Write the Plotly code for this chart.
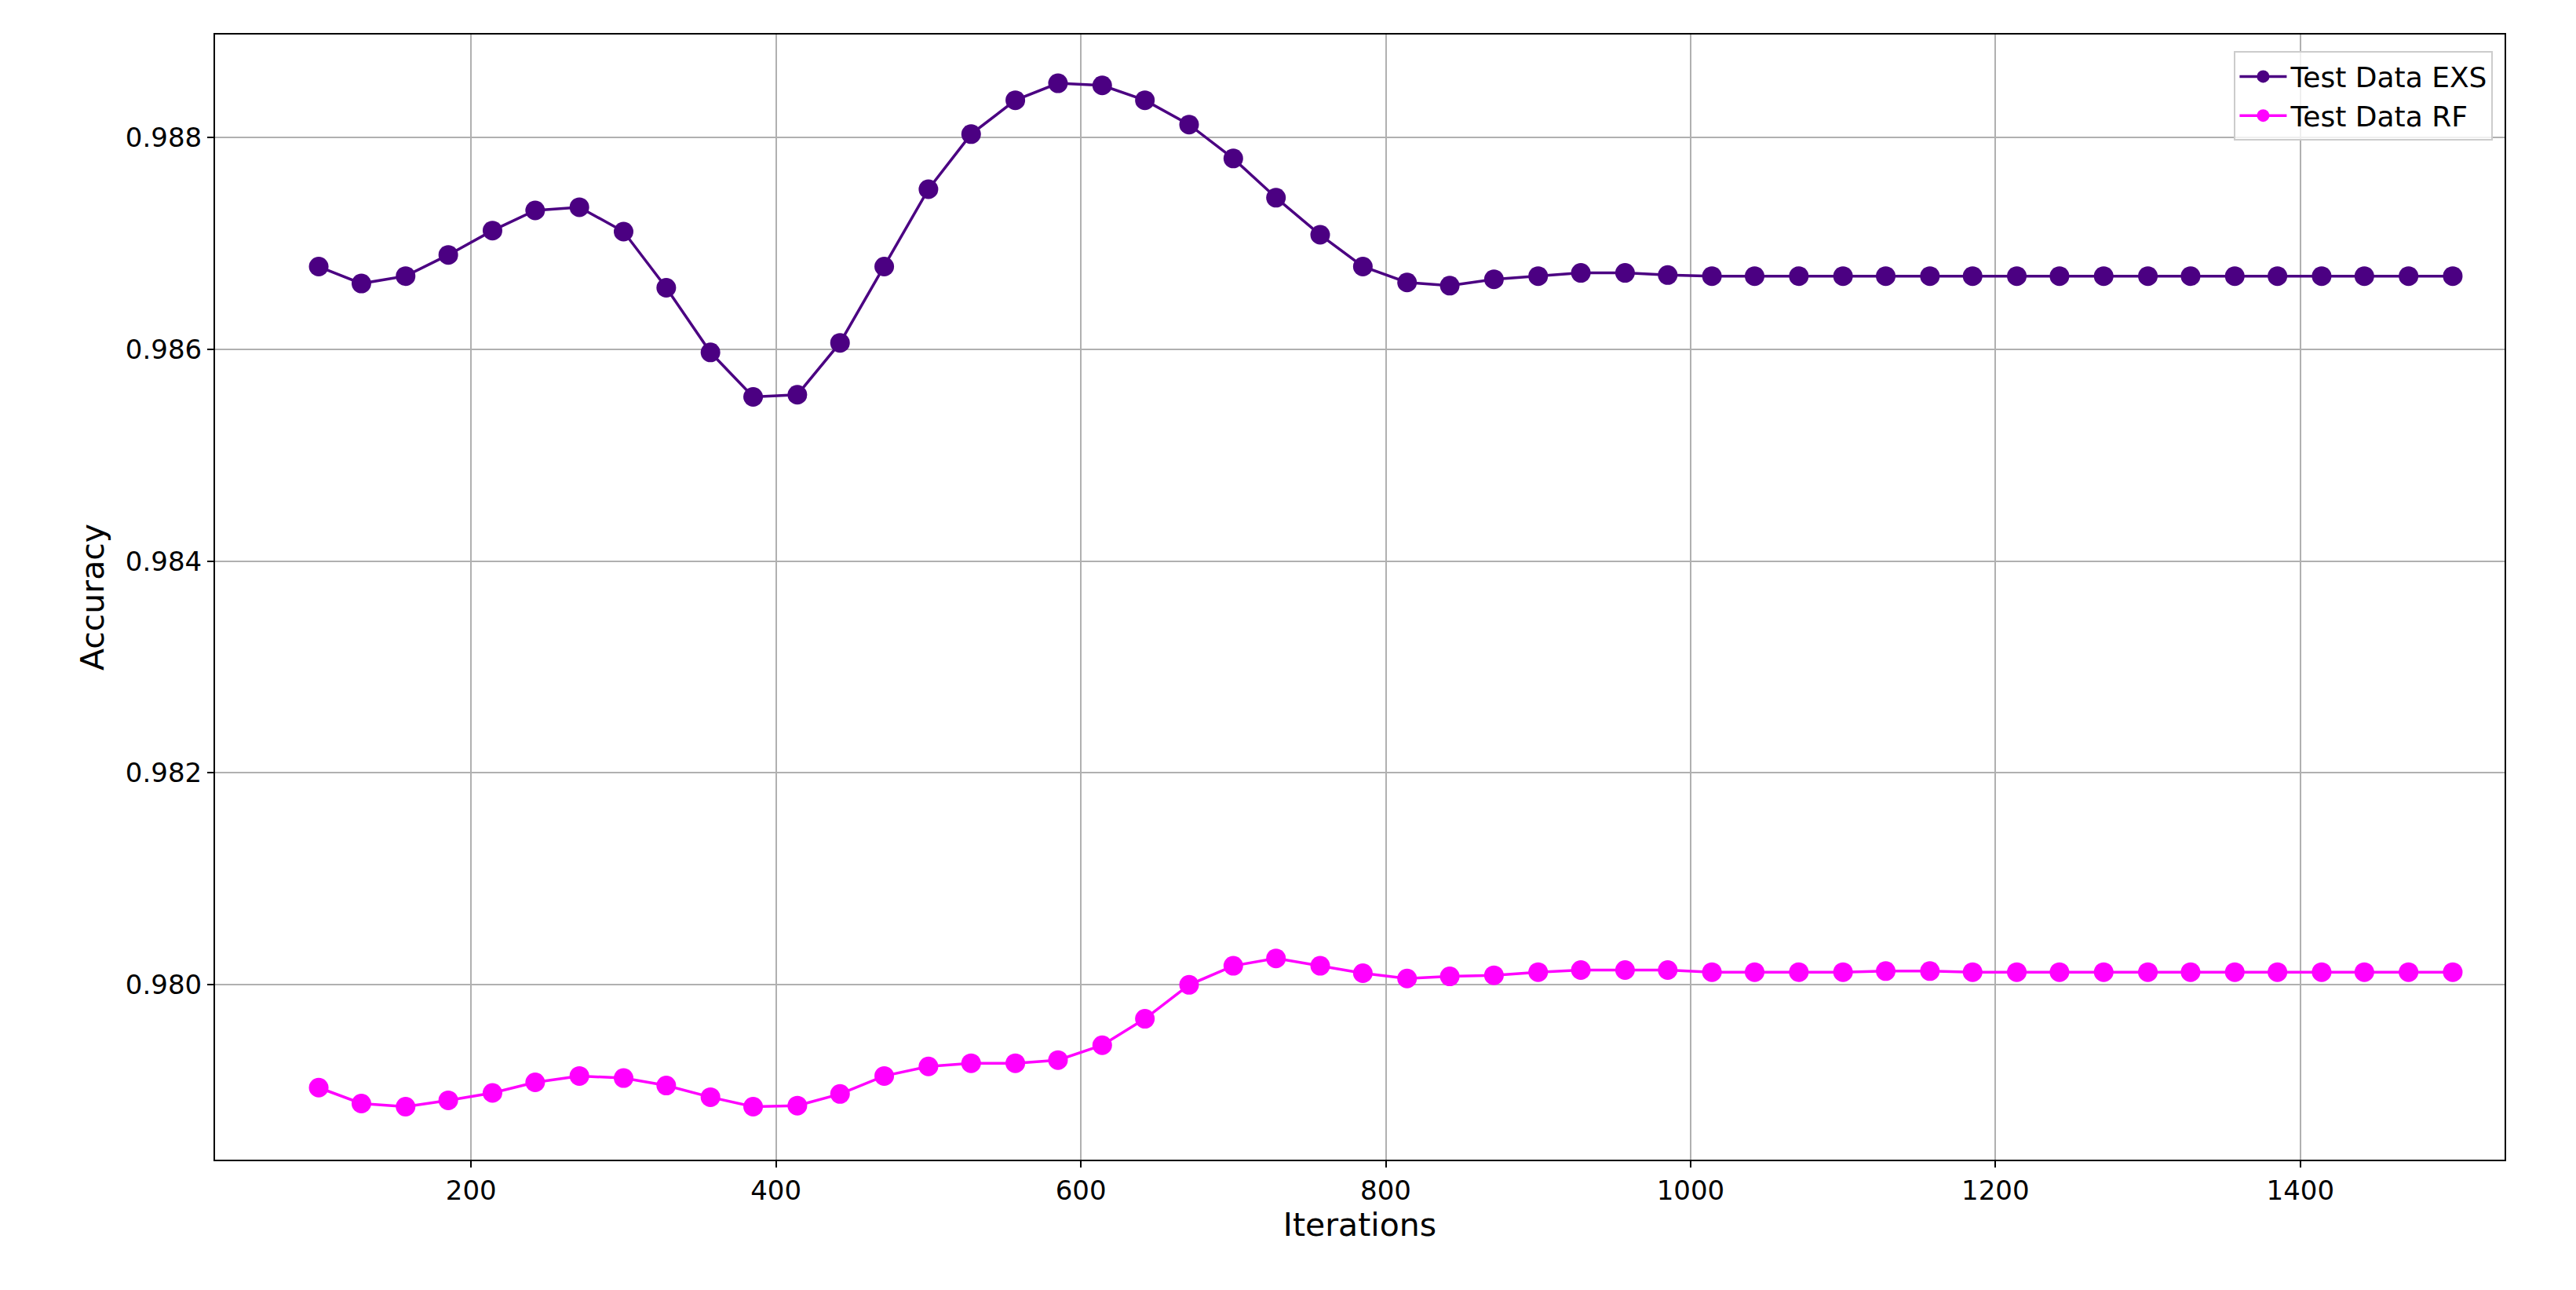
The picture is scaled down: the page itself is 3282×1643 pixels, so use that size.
import plotly.graph_objects as go

iterations = [100, 128, 157, 185, 214, 242, 271, 300, 328, 357, 385, 414, 442, 471, 500, 528,
              557, 585, 614, 642, 671, 700, 728, 757, 785, 814, 842, 871, 900, 928, 957, 985,
              1014, 1042, 1071, 1100, 1128, 1157, 1185, 1214, 1242, 1271, 1300, 1328, 1357,
              1385, 1414, 1442, 1471, 1500]

acc_exs = [0.98678, 0.98662, 0.98669, 0.98689, 0.98712, 0.98731, 0.98734, 0.98711, 0.98658,
           0.98597, 0.98555, 0.98557, 0.98606, 0.98678, 0.98751, 0.98803, 0.98835, 0.98851,
           0.98849, 0.98835, 0.98812, 0.98780, 0.98743, 0.98708, 0.98678, 0.98663, 0.98660,
           0.98666, 0.98669, 0.98672, 0.98672, 0.98670, 0.98669, 0.98669, 0.98669, 0.98669,
           0.98669, 0.98669, 0.98669, 0.98669, 0.98669, 0.98669, 0.98669, 0.98669, 0.98669,
           0.98669, 0.98669, 0.98669, 0.98669, 0.98669]

acc_rf = [0.97903, 0.97888, 0.97885, 0.97891, 0.97898, 0.97908, 0.97914, 0.97912, 0.97905,
          0.97894, 0.97885, 0.97886, 0.97897, 0.97914, 0.97923, 0.97926, 0.97926, 0.97929,
          0.97943, 0.97968, 0.98000, 0.98018, 0.98025, 0.98018, 0.98011, 0.98006, 0.98008,
          0.98009, 0.98012, 0.98014, 0.98014, 0.98014, 0.98012, 0.98012, 0.98012, 0.98012,
          0.98013, 0.98013, 0.98012, 0.98012, 0.98012, 0.98012, 0.98012, 0.98012, 0.98012,
          0.98012, 0.98012, 0.98012, 0.98012, 0.98012]

y_ticks = [0.980, 0.982, 0.984, 0.986, 0.988]
x_ticks = [200, 400, 600, 800, 1000, 1200, 1400]

fig = go.Figure()
fig.add_trace(go.Scatter(x=iterations, y=acc_exs, mode="lines+markers", name="Test Data EXS",
                         line=dict(color="#4B0082", width=3.5), marker=dict(size=25, color="#4B0082")))
fig.add_trace(go.Scatter(x=iterations, y=acc_rf, mode="lines+markers", name="Test Data RF",
                         line=dict(color="#FF00FF", width=3.5), marker=dict(size=25, color="#FF00FF")))

axis_style = dict(showgrid=True, gridcolor="#b0b0b0", gridwidth=2, zeroline=False,
                  showline=True, linecolor="black", linewidth=2, mirror=True,
                  ticks="outside", ticklen=8, tickwidth=2, tickcolor="black")
fig.update_xaxes(range=[32, 1534], tickvals=x_ticks, title_text="Iterations",
                 title_standoff=10, **axis_style)
fig.update_yaxes(range=[0.97835, 0.98897], tickvals=y_ticks, tickformat=".3f",
                 title_text="Accuracy", **axis_style)

fig.update_layout(
    width=3282, height=1643,
    margin=dict(l=266, r=99, t=36, b=174),
    plot_bgcolor="white", paper_bgcolor="white",
    font=dict(family="DejaVu Sans", size=34, color="black"),
    legend=dict(x=0.995, y=0.985, xanchor="right", yanchor="top", bgcolor="rgba(255,255,255,0.8)",
                bordercolor="#cccccc", borderwidth=2, font=dict(size=36), itemwidth=60),
)

fig.write_html("out.html")
